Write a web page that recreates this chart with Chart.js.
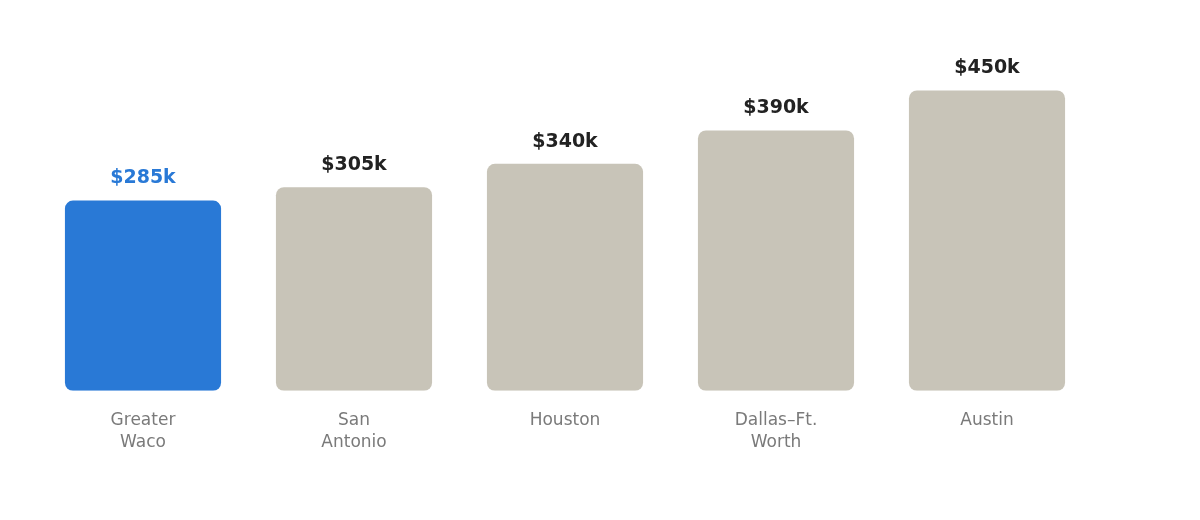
<!DOCTYPE html>
<html>
<head>
<meta charset="utf-8">
<script src="https://cdn.jsdelivr.net/npm/chart.js@4/dist/chart.umd.min.js"></script>
<style>
  html, body { margin: 0; padding: 0; background: #fff; }
  #wrap { width: 1200px; height: 520px; }
</style>
</head>
<body>
<div id="wrap"><canvas id="myChart"></canvas></div>
<script>
// median home prices, in thousands
var cities = [['Greater', 'Waco'], ['San', 'Antonio'], 'Houston', ['Dallas–Ft.', 'Worth'], 'Austin'];
var prices = [285, 305, 340, 390, 450];
var priceLabels = ['$285k', '$305k', '$340k', '$390k', '$450k'];

var barColors = ['#2979d6', '#c8c4b8', '#c8c4b8', '#c8c4b8', '#c8c4b8'];
var labelColors = ['#2979d6', '#222222', '#222222', '#222222', '#222222'];

// draw the value above each bar
var valueLabels = {
    id: 'valueLabels',
    afterDatasetsDraw: function(chart) {
        var c = chart.ctx;
        var meta = chart.getDatasetMeta(0);
        c.save();
        c.font = 'bold 19px "DejaVu Sans"';
        c.textAlign = 'center';
        c.textBaseline = 'middle';
        meta.data.forEach(function(bar, i) {
            c.fillStyle = labelColors[i];
            c.fillText(priceLabels[i], bar.x, bar.y - 22);
        });
        c.restore();
    }
};

var ctx = document.getElementById('myChart').getContext('2d');
var myChart = new Chart(ctx, {
    type: 'bar',
    data: {
        labels: cities,
        datasets: [{
            data: prices,
            backgroundColor: barColors,
            borderRadius: 8,
            borderSkipped: false,
            barPercentage: 0.74,
            categoryPercentage: 1
        }]
    },
    options: {
        responsive: true,
        maintainAspectRatio: false,
        animation: false,
        layout: {
            padding: { left: 37.5, right: 107.5, top: 57, bottom: 55 }
        },
        plugins: {
            legend: { display: false },
            tooltip: { enabled: false }
        },
        scales: {
            x: {
                grid: { display: false },
                border: { display: false },
                ticks: {
                    color: '#7a7a7a',
                    padding: 11,
                    font: { family: 'DejaVu Sans', size: 17, lineHeight: 1.3 }
                }
            },
            y: {
                display: false,
                min: 0,
                max: 500
            }
        }
    },
    plugins: [valueLabels]
});
</script>
</body>
</html>
